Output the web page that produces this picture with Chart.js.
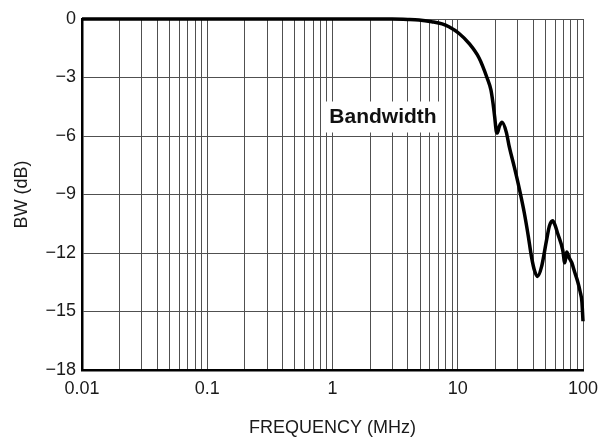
<!DOCTYPE html>
<html>
<head>
<meta charset="utf-8">
<script src="https://cdn.jsdelivr.net/npm/chart.js@4/dist/chart.umd.min.js"></script>
<style>
  html, body { margin: 0; padding: 0; background: #fff; }
  #wrap { width: 598px; height: 439px; position: relative; }
</style>
</head>
<body>
<div id="wrap"><canvas id="c" width="598" height="439"></canvas></div>
<script>
// ---- data ----
const freqMHz = [0.01, 0.1, 1, 3, 4, 4.9, 6.2, 7.5, 8.5, 10.2, 12.3, 14.8, 17.1, 18.4, 19.1, 19.7, 20.3, 20.7, 21.5, 22.6, 24.4, 25.8, 28.3, 31.0, 34.0, 36.5, 38.8, 41, 43.3, 46.7, 51.3, 54, 57.3, 60, 62.8, 68.9, 71.5, 73, 74.2, 77, 81.4, 86, 91, 95, 98, 100];
const bwDb    = [0, 0, 0, 0, -0.02, -0.05, -0.14, -0.25, -0.4, -0.73, -1.25, -2.0, -3.0, -3.64, -4.3, -5.0, -5.75, -5.85, -5.5, -5.3, -5.8, -6.56, -7.6, -8.7, -9.95, -11.1, -12.2, -12.9, -13.2, -12.7, -11.3, -10.6, -10.35, -10.6, -11.0, -11.85, -12.5, -12.2, -11.95, -12.2, -12.5, -13.0, -13.5, -14.0, -14.5, -15.5];

const xTickValues = [0.01, 0.1, 1, 10, 100];
const xTickLabels = ['0.01', '0.1', '1', '10', '100'];
const yTickValues = [0, -3, -6, -9, -12, -15, -18];
const yTickLabels = ['0', '\u22123', '\u22126', '\u22129', '\u221212', '\u221215', '\u221218'];

const xTitle = 'FREQUENCY (MHz)';
const yTitle = 'BW (dB)';
const noteText = 'Bandwidth';
const noteFreq = 2.53;
const noteDb = -5.0;

const FONT = '"Liberation Sans", Arial, Helvetica, sans-serif';
const TXT = '#1a1a1a';

const notePlugin = {
  id: 'note',
  beforeDatasetsDraw(chart) {
    const ctx = chart.ctx;
    const xs = chart.scales.x, ys = chart.scales.y;
    const cx = xs.getPixelForValue(noteFreq);
    const cy = ys.getPixelForValue(noteDb);
    ctx.save();
    ctx.font = 'bold 21px ' + FONT;
    const w = ctx.measureText(noteText).width;
    ctx.fillStyle = '#fff';
    ctx.fillRect(cx - w / 2 - 7, cy - 15, w + 14, 31);
    ctx.fillStyle = '#111';
    ctx.textAlign = 'center';
    ctx.textBaseline = 'middle';
    ctx.fillText(noteText, cx, cy + 1);
    ctx.restore();
  }
};

new Chart(document.getElementById('c'), {
  type: 'line',
  data: {
    datasets: [{
      data: freqMHz.map((f, i) => ({ x: f, y: bwDb[i] })),
      borderColor: '#000',
      borderWidth: 3.5,
      pointRadius: 0,
      cubicInterpolationMode: 'monotone',
      clip: false,
      fill: false
    }]
  },
  options: {
    responsive: false,
    animation: false,
    devicePixelRatio: 1,
    layout: { padding: { top: 19, right: 15, left: 0, bottom: 0 } },
    plugins: { legend: { display: false }, tooltip: { enabled: false } },
    scales: {
      x: {
        type: 'logarithmic',
        min: 0.01,
        max: 100,
        afterFit(s) { s.height = 69; s.paddingLeft = 0; s.paddingRight = 0; },
        afterBuildTicks(s) {
          const t = [];
          for (let d = 0; d < xTickValues.length - 1; d++) {
            for (let m = 1; m <= 9; m++) t.push({ value: m * xTickValues[d] });
          }
          t.push({ value: xTickValues[xTickValues.length - 1] });
          s.ticks = t;
        },
        ticks: {
          autoSkip: false,
          maxRotation: 0,
          padding: 8,
          color: TXT,
          font: { family: FONT, size: 18 },
          callback(v) {
            const i = xTickValues.findIndex(q => Math.abs(q - v) / q < 1e-6);
            return i >= 0 ? xTickLabels[i] : '';
          }
        },
        grid: { color: '#505050', lineWidth: 1, drawTicks: false },
        border: { color: '#000', width: 2.5 },
        title: { display: true, text: xTitle, color: TXT, font: { family: FONT, size: 18 }, padding: { top: 0, bottom: 0 } }
      },
      y: {
        min: -18,
        max: 0,
        afterFit(s) { s.width = 82; s.paddingTop = 0; s.paddingBottom = 0; },
        afterBuildTicks(s) { s.ticks = yTickValues.map(v => ({ value: v })); },
        ticks: {
          padding: 6,
          color: TXT,
          font: { family: FONT, size: 18 },
          callback(v) {
            const i = yTickValues.indexOf(v);
            return i >= 0 ? yTickLabels[i] : '';
          }
        },
        grid: { color: '#505050', lineWidth: 1, drawTicks: false },
        border: { color: '#000', width: 2.5 },
        title: { display: true, text: yTitle, color: TXT, font: { family: FONT, size: 18 }, padding: { top: 11, bottom: 0 } }
      }
    }
  },
  plugins: [notePlugin]
});
</script>
</body>
</html>
